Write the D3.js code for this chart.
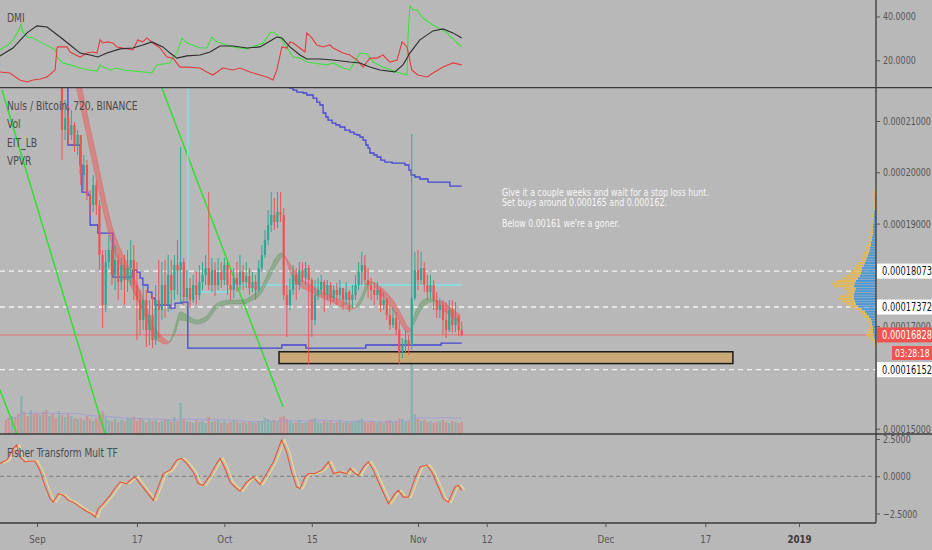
<!DOCTYPE html>
<html>
<head>
<meta charset="utf-8">
<script src="https://cdn.jsdelivr.net/npm/d3@7/dist/d3.min.js"></script>
<style>
html,body{margin:0;padding:0;background:#b9b8b9;overflow:hidden}
svg{display:block}
text{font-family:"Liberation Sans Narrow","DejaVu Sans Condensed","Liberation Sans",Arial,sans-serif}
</style>
</head>
<body>
<svg id="chart" width="932" height="550"></svg>
<script>
// ---------------- DATA ----------------
// NULS/BTC 12h candles, prices in satoshi (1e-8 BTC), first bar 2018-08-27 00:00 UTC
const START_UTC = Date.UTC(2018, 7, 27, 0, 0);
const BAR_HOURS = 12;
const firstOpen = 24100;
const closes = [23900,23600,24100,23700,23300,23500,23100,22800,23200,22900,
22600,22800,22400,22200,22500,22100,21900,22200,20824,21058,
20727,20922,20532,20727,19947,20142,19557,19362,19752,19362,
18387,17412,18250,18484,17997,18289,17860,18192,17899,18133,
18289,17802,17509,17119,17509,16924,17217,16729,17509,17314,
17802,17412,17997,17704,18192,18094,18250,17567,17743,17509,
17802,17607,17860,17997,18133,17802,18094,17802,18055,17899,
18192,17802,17704,17938,17802,18055,17860,17977,17743,17860,
17704,18133,18387,18679,18972,19167,19030,19225,19167,17607,
17412,17704,17997,17802,18094,17938,18133,17899,17119,17607,
17704,17860,17607,17802,17548,17704,17607,17743,17509,17665,
17509,17607,17802,18055,18192,17899,17802,17704,17607,17704,
17412,17509,17217,17022,17158,16924,16495,16632,16729,16632,
17548,18094,17899,18133,17802,17665,17802,17509,17314,17412,
17119,16924,17314,17022,17158,16924,16828];
const highs = [24300,24000,24400,24200,23800,23700,23600,23300,23400,23300,
23000,23000,22900,22600,22700,22600,22300,22400,22300,21409,
21300,21214,20980,20824,20629,20337,20239,19654,19947,19849,
19459,18484,18484,18777,18582,18582,18387,18328,18387,18484,
18679,18582,18250,17704,17802,17704,17509,17607,17802,18289,
18250,18289,18387,18289,18387,18679,20492,18328,18094,17938,
17997,18055,18192,18250,18387,19615,18328,18250,18328,18250,
18328,18250,18094,18133,18250,18387,18192,18250,18133,18055,
17997,18289,18582,18874,19264,19615,19498,19615,19615,19303,
17802,17938,18192,18133,18250,18250,18250,18192,17938,17899,
17938,17997,17899,17899,17860,17802,17841,17899,17743,17860,
17704,17802,17997,18250,18445,18387,18133,17938,17860,17860,
17743,17665,17548,17412,17353,17275,17080,16768,16924,16827,
20746,18445,18484,18445,18250,17997,17997,17899,17665,17548,
17509,17470,17509,17509,17470,17217,17080];
const lows = [23600,23300,23500,23400,23000,23100,22900,22600,22700,22700,
22400,22500,22200,21950,22100,21900,21700,21800,20239,20629,
20532,20629,20395,20337,19752,19654,19459,19167,19225,19167,
18094,16963,17275,18133,17802,17704,17509,17704,17412,17665,
17802,17509,16729,16827,16924,16592,16632,16573,16632,16768,
17119,17158,17275,17314,17509,17607,17450,17412,17470,17353,
17450,17412,17509,17704,17802,17704,17665,17587,17704,17743,
17802,17607,17509,17548,17665,17704,17704,17743,17607,17665,
17509,17665,18055,18328,18582,18835,18874,18913,19030,17509,
16787,17314,17607,17509,17704,17860,17802,16242,16787,17022,
17509,17607,17275,17509,17412,17470,17412,17509,17314,17412,
17275,17353,17509,17704,17802,17802,17548,17509,17412,17509,
17275,17314,17119,16924,16963,16827,16242,16378,16495,16437,
16534,17509,17704,17802,17665,17509,17548,17314,17158,17158,
16827,16768,16885,16866,16885,16807,16807];
const volumes = [14,16,18,17,20,38,22,18,24,20,
21,19,22,24,18,20,16,23,19,17,
20,18,16,15,16,14,18,15,13,16,
19,23,17,14,13,15,12,14,13,16,
15,17,13,16,14,12,15,13,14,12,
13,15,14,12,17,13,31,15,13,12,
11,14,12,13,11,17,12,13,14,11,
13,11,12,14,13,11,12,11,13,12,
11,13,12,16,15,13,14,12,17,18,
15,13,11,12,14,11,12,13,15,16,
12,11,13,12,14,11,12,13,11,12,
11,12,13,14,15,12,11,13,12,11,
12,11,13,14,12,13,16,15,12,13,
70,20,15,13,14,12,13,11,12,13,
14,12,11,13,12,11,12];

// EIT_LB ribbon: [bar index, fast MA, slow MA]
const ribbon = [[22.2,21760,22228],[25.7,20785,21253],[27.6,20239,20707],[29.2,19810,20278],
[31.1,19283,19712],[32.7,18874,19264],[34.3,18542,18893],[36.6,18211,18523],[38.8,17957,18230],
[40.7,17704,17977],[43.0,17412,17684],[45.2,17099,17333],[47.1,16827,17022],[49.4,16690,16846],
[51.3,16651,16729],[52.6,16690,16690],[54.2,16982,16865],[55.8,17275,17119],[58.0,17217,17099],
[61.2,17119,17041],[64.4,17207,17109],[67.6,17441,17343],[71.8,17509,17431],[75.9,17509,17431],
[78.8,17597,17499],[81.4,17724,17607],[84.6,18114,17957],[86.8,18367,18211],[88.4,18426,18348],
[89.4,18367,18367],[91.0,18055,18211],[94.2,17782,17938],[97.4,17675,17811],[100.6,17568,17684],
[103.8,17490,17607],[107.0,17392,17509],[110.2,17324,17421],[111.8,17353,17353],[114.1,17607,17490],
[116.0,17870,17772],[117.3,17860,17860],[119.2,17684,17802],[121.4,17529,17684],[124.6,17256,17451],
[126.9,17002,17197],[128.8,16866,16982],[129.8,16944,16944],[131.0,17236,17080],[132.6,17431,17275],
[134.2,17529,17412],[136.5,17538,17480],[137.8,17490,17490],[139.0,17373,17490],[142.2,17217,17373],
[145.4,17061,17217]];

// stepped channel lines: [bar index, price]
const stepLow = [[15.8,21994],[19.9,20532],[23.8,20142],[24.4,19615],[26.3,19557],[27,18972],[29.5,18815],
[34.3,17957],[40.7,18094],[42,18055],[43,17938],[43.9,17802],[45.5,17665],[46.8,17548],[47.8,17412],
[52.6,17353],[54.2,17450],[56.4,17470],[58.3,16573],[88.4,16632],[96.1,16573],[115.3,16632],[139.4,16670],[146,16670]];
const stepHigh = [[90,21799],[91,21643],[92,21604],[93.2,21565],[95.2,21546],[96.4,21507],[98.4,21448],
[99.6,21370],[100.6,21312],[101.6,21156],[102.5,21078],[103.2,21019],[104.5,20960],[105.7,20922],
[107,20883],[108.6,20824],[110.2,20785],[111.5,20746],[112.5,20727],[113.4,20688],[114.4,20629],
[115.3,20532],[116,20473],[116.6,20376],[117.9,20337],[118.9,20298],[120.1,20239],[121.4,20200],
[123.7,20180],[127.8,20142],[129.1,20044],[129.8,19947],[131,19908],[132.6,19869],[135.2,19810],
[142.2,19732],[146,19732]];
const stepCyan = [[40,22600],[58.3,17667],[72,17802],[146,17802]];

// drawn trend lines: [[bar, price],[bar, price]]
const trendLines = [
  [[-1.2,21604],[31.8,14896]],
  [[50,21643],[88.8,15422]],
  [[-2.5,15852],[3.6,14896]]
];
// horizontal levels
const levels = [18073, 17372, 16152];
const lastPrice = 16828;
const countdown = "03:28:18";
// buy zone box
const zone = {startBar: 87.5, end: Date.UTC(2018,11,21,10), top: 16500, bottom: 16270};
const noteLines = ["Give it a couple weeks and wait for a stop loss hunt.",
                   "Set buys around 0.000165 and 0.000162.",
                   "",
                   "Below 0.00161 we're a goner."];
const legendLines = ["Nuls / Bitcoin, 720, BINANCE", "Vol", "EIT_LB", "VPVR"];

// DMI: [bar index, value]
const adx = [[-1.9,22.0],[2.3,25.6],[6.8,32.5],[10,35.7],[13.2,35.2],[17.4,30.6],[20.6,27.0],[23.8,23.3],
[27,22.4],[29.5,21.5],[32.4,23.3],[36.6,25.2],[40.7,25.6],[43.9,27.0],[46.8,28.4],[50.3,26.1],[52.6,23.3],
[54.8,21.0],[58,22.0],[62.2,22.4],[65.4,23.8],[68.6,26.5],[72.8,26.5],[77.2,25.6],[81.4,26.1],[83.6,27.9],
[86.8,30.6],[88.4,30.2],[91,26.1],[94.2,22.4],[96.4,20.6],[100.6,20.6],[104.8,20.1],[110.2,19.2],
[113.4,18.8],[116.6,16.9],[119.8,15.6],[124.6,14.7],[127.2,17.9],[129.4,23.3],[132.6,29.3],[136.8,33.4],
[140,34.3],[143.2,32.5],[146,30.2]];
const plusDI = [[-1.9,24.7],[0.7,27.0],[2.3,29.3],[3.9,32.9],[4.9,36.6],[5.5,32.9],[6.8,30.6],[8.7,30.2],
[11,28.4],[14.2,26.1],[15.8,24.7],[16.7,21.0],[18.3,18.8],[20.6,17.9],[23.8,16.5],[26.9,15.6],[29.2,15.1],
[30.2,17.9],[31.1,16.9],[33.4,15.6],[35.6,16.5],[37.5,15.6],[40.7,15.1],[43.9,14.7],[46.8,14.2],[48.4,17.9],
[50.3,18.3],[52.6,18.8],[53.5,21.5],[54.8,23.3],[56.4,30.2],[58,27.9],[62.2,25.6],[64.4,25.6],[66,30.6],
[67.6,28.4],[72.8,26.1],[75,25.6],[77.2,25.2],[82.4,27.9],[84.6,32.5],[85.6,32.9],[87.8,30.6],[88.8,28.4],
[92,21.5],[94.2,21.0],[96.4,19.2],[98.4,18.8],[102.8,17.9],[104.8,18.8],[108,16.5],[110.2,15.6],[111.2,17.9],
[113.4,23.3],[115.7,22.9],[117.6,19.2],[120.8,16.9],[125.3,14.7],[128.5,13.3],[128.8,30.6],[129.4,44.8],
[130.4,43.0],[131.7,43.0],[133.6,39.3],[136.8,36.1],[141.3,32.5],[144.5,27.9],[146,26.1]];
const minusDI = [[-1.9,14.7],[1.3,14.2],[4.5,11.0],[6.8,10.1],[8.7,11.0],[11,11.5],[13.2,12.4],[15.1,14.7],
[15.8,15.6],[16.4,25.6],[16.7,26.1],[19.6,26.1],[20.6,23.8],[23.8,21.5],[26,23.3],[27.9,23.8],[29.2,23.3],
[30.2,29.3],[31.1,27.9],[32.4,28.4],[34.3,27.9],[35.6,26.1],[37.5,25.6],[40.7,24.7],[42.3,29.3],[43.9,28.4],
[45.2,30.2],[47.1,27.9],[49.4,25.6],[51.6,21.5],[53.5,21.0],[55.8,16.9],[58,16.9],[62.2,16.5],[64.4,14.7],
[66.3,13.3],[69.5,16.5],[72.8,15.6],[75,16.5],[78.2,14.7],[81.4,13.3],[83.6,12.4],[85.6,11.0],[86.8,15.6],
[88.4,26.1],[90,25.6],[91,28.4],[92,27.9],[94.2,25.6],[95.8,23.8],[96.4,32.5],[98,30.2],[99.6,27.0],
[101.6,26.1],[103.8,27.0],[104.8,25.6],[108,23.3],[110.2,22.4],[112.5,20.1],[114.4,16.9],[116.6,21.0],
[118.9,21.0],[120.8,22.4],[123,19.2],[125.3,20.1],[126.9,28.4],[128.5,26.1],[130,15.6],[131.9,13.3],
[134.9,12.4],[136.8,14.2],[140,16.9],[143.2,18.8],[146,17.9]];

// Fisher Transform: [bar index, value]
const fisher = [[-1.9,0.86],[0.3,1.08],[2.4,1.87],[3.5,2.09],[4.5,1.30],[6.1,0.97],[7.7,1.01],[9.3,1.01],
[10.9,0.41],[12.5,-0.61],[14.2,-1.51],[15.2,-1.74],[16.8,-1.17],[18.4,-1.28],[20,-1.62],[21.6,-1.74],
[23.8,-2.07],[25.9,-2.36],[27.5,-2.52],[28.6,-2.75],[29.6,-2.18],[31.2,-1.84],[33.4,-1.28],[35,-0.79],
[36.6,-0.39],[38.7,-0.49],[39.8,-0.27],[41.4,-0.05],[43,-0.49],[45.1,-1.06],[47.2,-1.62],[48.8,-0.72],
[50.4,0.18],[52.6,0.41],[54.7,1.08],[56.3,1.20],[57.9,0.86],[60,0.29],[61.6,-0.49],[63.2,-0.61],[65.4,0.07],
[67.5,0.86],[68.6,1.20],[70.2,0.52],[71.8,-0.39],[73.4,-0.72],[75,-1.01],[77.1,-0.39],[79.2,-0.05],
[81.4,-0.56],[83.5,0.18],[85.7,0.97],[87.3,1.87],[88.3,2.43],[89.9,1.64],[91.5,0.29],[93.1,-0.72],
[94.2,-0.83],[95.8,-0.05],[96.9,0.18],[99,0.18],[101.2,0.41],[103.3,0.97],[104.9,0.18],[107,0.29],
[109.2,0.18],[110.2,0.52],[111.8,0.18],[112.9,0.07],[114.5,0.63],[116.1,0.97],[117.7,0.41],[119.8,-0.61],
[122.5,-1.84],[124.6,-1.17],[125.7,-0.95],[127.3,-1.40],[128.9,-1.40],[131,-0.16],[132.6,0.63],
[134.8,0.74],[136.4,0.29],[138.5,-0.72],[140.1,-1.51],[141.7,-1.74],[143.8,-0.72],[144.9,-0.61],[146,-0.95]];

// Volume profile (VPVR): rows of 50 sat from 19700 downward
const vpTopLow = 19700, vpStep = 50;
const vpTotal = [1,1,2,2,2,2,3,2,3,3,3,4,4,3,4,5,4,5,6,5,7,6,8,9,10,9,12,13,15,14,
18,20,22,24,26,30,34,40,44,42,32,28,30,36,38,34,30,26,20,16,14,12,9,8,7,7,8,9,10,8,5,3,2,1];
const vpUp = [0,0,0,0,1,1,1,1,1,1,2,2,2,2,2,3,3,3,3,3,4,4,5,5,6,6,7,8,9,10,
11,12,14,14,15,16,18,20,21,22,20,21,22,22,22,21,20,18,14,11,9,7,5,4,4,3,3,3,2,2,1,1,0,0];

// axis ticks (0.00016 and 0.00018 sit under the level labels)
const priceTicks = [15000,17000,19000,20000,21000];
const dmiTicks = [20, 40];
const fisherTicks = [-2.5, 0, 2.5];
const timeTicks = [["2018-09-01","Sep"],["2018-09-17","17"],["2018-10-01","Oct"],["2018-10-15","15"],
["2018-11-01","Nov"],["2018-11-12","12"],["2018-12-01","Dec"],["2018-12-17","17"],["2019-01-01","2019"]];

// ---------------- CHART ----------------
const W = 932, H = 550, PR = 876;
const TOP2 = 87.7, TOP3 = 434, BOT = 523;
const UP = "#2aa996", DN = "#ef5350", AX = "#555";
const barDate = i => new Date(START_UTC + i * BAR_HOURS * 3600e3);
const candles = closes.map((c, i) => ({i, o: i ? closes[i-1] : firstOpen, h: highs[i], l: lows[i], c, v: volumes[i]}));

// horizontally squeeze text (reference uses a condensed face)
function narrow(sel, f) {
  sel.each(function () {
    const t = d3.select(this);
    const x0 = +(t.attr("x") || 0);
    t.attr("x", 0).attr("transform", `translate(${x0},0) scale(${f},1)`);
  });
}

const x = d3.scaleUtc().domain([new Date(Date.UTC(2018,8,1)), new Date(Date.UTC(2019,0,1))]).range([37, 799]);
const xb = i => x(barDate(i));
const yD = d3.scaleLinear().domain([7.5, 47.5]).range([TOP2, 0]);
const yP = d3.scaleLinear().domain([15000, 21000]).range([428.7, 121]);
const yF = d3.scaleLinear().domain([-2.5, 2.5]).range([513.5, 439]);
const yV = d3.scaleLinear().domain([0, d3.max(volumes)]).range([TOP3, TOP3 - 70]);
const wVp = d3.scaleLinear().domain([0, d3.max(vpTotal)]).range([0, 44]);

const svg = d3.select("#chart");
svg.append("rect").attr("width", W).attr("height", H).attr("fill", "#b9b8b9");
const defs = svg.append("defs");
[["cD",0,TOP2],["cM",TOP2,TOP3],["cF",TOP3,BOT]].forEach(([id,a,b]) =>
  defs.append("clipPath").attr("id", id).append("rect").attr("x",0).attr("y",a).attr("width",PR).attr("height",b-a));

// ===== DMI panel =====
const gD = svg.append("g").attr("clip-path","url(#cD)");
const lineD = d3.line().x(d => xb(d[0])).y(d => yD(d[1]));
[[plusDI,"#3ee03e"],[minusDI,"#e23b3b"],[adx,"#2b2b2b"]].forEach(([s,c]) =>
  gD.append("path").attr("d", lineD(s)).attr("fill","none").attr("stroke",c).attr("stroke-width",1.1));
svg.append("text").attr("x",7).attr("y",22).attr("font-size",12).attr("fill","#4a4a4a").text("DMI").call(narrow, 0.85);

// ===== Main panel =====
const gM = svg.append("g").attr("clip-path","url(#cM)");
gM.selectAll("line.lvl").data(levels).join("line")
  .attr("x1",0).attr("x2",PR).attr("y1",d=>yP(d)).attr("y2",d=>yP(d))
  .attr("stroke","#f4f4f4").attr("stroke-width",1.4).attr("stroke-dasharray","5,4");
gM.append("line").attr("x1",0).attr("x2",PR).attr("y1",yP(lastPrice)).attr("y2",yP(lastPrice))
  .attr("stroke","#e86a6a").attr("stroke-width",1);

// volume
gM.selectAll("rect.vol").data(candles).join("rect")
  .attr("x", d => xb(d.i) - 1.2).attr("width", 2.4)
  .attr("y", d => yV(d.v)).attr("height", d => TOP3 - yV(d.v))
  .attr("fill", d => d.c >= d.o ? UP : DN).attr("opacity", 0.35);
const volMA = candles.map((d, i) => [i, d3.mean(volumes.slice(Math.max(0, i - 19), i + 1))]);
gM.append("path").attr("d", d3.line().x(d => xb(d[0])).y(d => yV(d[1]))(volMA))
  .attr("fill","none").attr("stroke","#9c9ad8").attr("stroke-width",1).attr("opacity",0.8);

// trend lines
gM.selectAll("line.tl").data(trendLines).join("line")
  .attr("x1", d => xb(d[0][0])).attr("y1", d => yP(d[0][1]))
  .attr("x2", d => xb(d[1][0])).attr("y2", d => yP(d[1][1]))
  .attr("stroke","#2ee02e").attr("stroke-width",1.5);

// buy zone
gM.append("rect").attr("x", xb(zone.startBar)).attr("y", yP(zone.top))
  .attr("width", x(new Date(zone.end)) - xb(zone.startBar)).attr("height", yP(zone.bottom) - yP(zone.top))
  .attr("fill","#c9a978").attr("stroke","#1a1a1a").attr("stroke-width",1.5);

// stepped lines
const stepLine = d3.line().curve(d3.curveStepAfter).x(d => xb(d[0])).y(d => yP(d[1]));
gM.append("path").attr("d", stepLine(stepCyan)).attr("fill","none").attr("stroke","#7fe3e6").attr("stroke-width",1.4);
[stepLow, stepHigh].forEach(s => gM.append("path").attr("d", stepLine(s))
  .attr("fill","none").attr("stroke","#4646d4").attr("stroke-width",1.3));

// ribbon (split at crossings)
const runs = []; let cur = [ribbon[0]];
for (let k = 1; k < ribbon.length; k++) {
  cur.push(ribbon[k]);
  if (ribbon[k][1] === ribbon[k][2] || k === ribbon.length - 1) { runs.push(cur); cur = [ribbon[k]]; }
}
const area = d3.area().curve(d3.curveMonotoneX).x(d => xb(d[0])).y0(d => yP(d[1])).y1(d => yP(d[2]));
runs.forEach(r => {
  const up = d3.sum(r, d => d[1] - d[2]) > 0;
  gM.append("path").attr("d", area(r))
    .attr("fill", up ? "rgba(80,150,80,0.4)" : "rgba(235,85,85,0.5)")
    .attr("stroke", up ? "rgba(80,150,80,0.45)" : "rgba(235,85,85,0.5)").attr("stroke-width",0.8);
});

// candles
const gC = gM.append("g");
gC.selectAll("line").data(candles).join("line")
  .attr("x1", d => xb(d.i)).attr("x2", d => xb(d.i))
  .attr("y1", d => yP(d.h)).attr("y2", d => yP(d.l))
  .attr("stroke", d => d.c >= d.o ? UP : DN).attr("stroke-width", 1);
gC.selectAll("rect").data(candles).join("rect")
  .attr("x", d => xb(d.i) - 1.1).attr("width", 2.2)
  .attr("y", d => yP(Math.max(d.o, d.c)))
  .attr("height", d => Math.max(1, Math.abs(yP(d.o) - yP(d.c))))
  .attr("fill", d => d.c >= d.o ? UP : DN);

// volume profile
const gVp = svg.append("g");
vpTotal.forEach((t, k) => {
  const pHi = vpTopLow - k * vpStep + vpStep, y0 = yP(pHi);
  const h = yP(pHi - vpStep) - y0 - 0.6;
  gVp.append("rect").attr("x", PR - wVp(t)).attr("y", y0).attr("width", wVp(t) - wVp(vpUp[k])).attr("height", h)
    .attr("fill","#e8b84c").attr("opacity",0.9);
  gVp.append("rect").attr("x", PR - wVp(vpUp[k])).attr("y", y0).attr("width", wVp(vpUp[k])).attr("height", h)
    .attr("fill","#3d93d8").attr("opacity",0.9);
});

// legend + note
legendLines.forEach((t, k) => svg.append("text").attr("x",7).attr("y",110 + k*18.5)
  .attr("font-size",12).attr("fill","#4a4a4a").text(t).call(narrow, 0.85));
noteLines.forEach((t, k) => svg.append("text").attr("x",502).attr("y",196 + k*10.2)
  .attr("font-size",10).attr("fill","#f6f6f6").text(t).call(narrow, 0.88));

// ===== Fisher panel =====
const gF = svg.append("g").attr("clip-path","url(#cF)");
gF.append("line").attr("x1",0).attr("x2",PR).attr("y1",yF(0)).attr("y2",yF(0))
  .attr("stroke","#7a7a7a").attr("stroke-dasharray","4,3").attr("stroke-width",1);
const lineF = d3.line().x(d => xb(d[0])).y(d => yF(d[1]));
gF.append("path").attr("d", lineF(fisher.map(d => [d[0] + 1, d[1]]))).attr("fill","none")
  .attr("stroke","#ead58c").attr("stroke-width",1.3);
gF.append("path").attr("d", lineF(fisher)).attr("fill","none").attr("stroke","#e3563a").attr("stroke-width",1.1);
svg.append("text").attr("x",7).attr("y",457).attr("font-size",12).attr("fill","#4a4a4a")
  .text("Fisher Transform Mult TF").call(narrow, 0.84);

// ===== frame =====
const frame = svg.append("g").attr("stroke","#3a3a3a").attr("stroke-width",1.3);
frame.append("line").attr("x1",0).attr("x2",W).attr("y1",TOP2).attr("y2",TOP2);
frame.append("line").attr("x1",0).attr("x2",W).attr("y1",TOP3).attr("y2",TOP3);
frame.append("line").attr("x1",0).attr("x2",PR).attr("y1",BOT).attr("y2",BOT);
frame.append("line").attr("x1",PR).attr("x2",PR).attr("y1",0).attr("y2",BOT);

// ===== axes =====
function styleAxis(g, f) {
  g.select(".domain").remove();
  g.selectAll(".tick line").attr("stroke", AX);
  g.selectAll(".tick text").attr("fill", AX).attr("font-size", 11)
    .attr("font-family", '"Liberation Sans Narrow","DejaVu Sans Condensed","Liberation Sans",Arial,sans-serif')
    .call(narrow, f);
}
svg.append("g").attr("transform",`translate(${PR},0)`)
  .call(d3.axisRight(yP).tickValues(priceTicks).tickFormat(d => (d/1e8).toFixed(8)).tickSize(4).tickPadding(3)).call(styleAxis, 0.8);
svg.append("g").attr("transform",`translate(${PR},0)`)
  .call(d3.axisRight(yD).tickValues(dmiTicks).tickFormat(d3.format(".4f")).tickSize(4).tickPadding(3)).call(styleAxis, 0.8);
svg.append("g").attr("transform",`translate(${PR},0)`)
  .call(d3.axisRight(yF).tickValues(fisherTicks).tickFormat(d3.format(".4f")).tickSize(4).tickPadding(3)).call(styleAxis, 0.8);
const tickMap = new Map(timeTicks.map(([d,l]) => [+new Date(d + "T00:00:00Z"), l]));
svg.append("g").attr("transform",`translate(0,${BOT})`)
  .call(d3.axisBottom(x).tickValues([...tickMap.keys()].map(t => new Date(t))).tickFormat(d => tickMap.get(+d)).tickSize(4).tickPadding(8))
  .call(styleAxis, 0.88)
  .call(g => g.selectAll(".tick text").filter(d => tickMap.get(+d) === "2019").attr("font-weight","bold").attr("fill","#3a3a3a"));

// ===== price labels =====
function label(v, text, bg, fg, x0) {
  const yc = yP(v);
  svg.append("rect").attr("x", x0).attr("y", yc - 7.5).attr("width", W - x0).attr("height", 15).attr("fill", bg);
  svg.append("text").attr("x", x0 + 5).attr("y", yc + 4).attr("font-size", 11.5).attr("fill", fg).text(text).call(narrow, 0.8);
}
levels.forEach(v => label(v, (v/1e8).toFixed(8), "#ffffff", "#111", PR + 1));
label(lastPrice, (lastPrice/1e8).toFixed(8), "#ef5350", "#ffffff", PR + 1);
{
  const yc = yP(lastPrice) + 18;
  svg.append("rect").attr("x", 892).attr("y", yc - 7).attr("width", W - 892).attr("height", 14).attr("fill", "#ef5350");
  svg.append("text").attr("x", 895).attr("y", yc + 4).attr("font-size", 11).attr("fill", "#fff").text(countdown).call(narrow, 0.78);
}
</script>
</body>
</html>
